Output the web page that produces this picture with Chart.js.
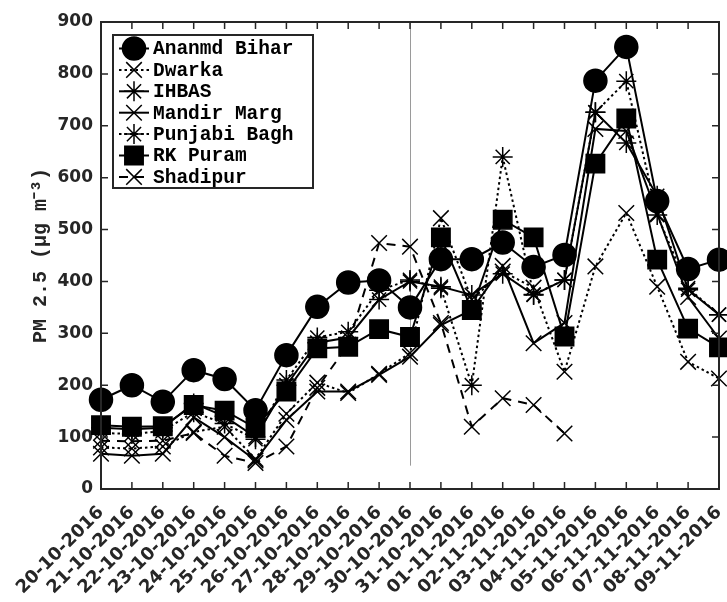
<!DOCTYPE html>
<html><head><meta charset="utf-8">
<script src="https://cdn.jsdelivr.net/npm/chart.js@4"></script>
<style>html,body{margin:0;padding:0;background:#fff}#wrap{width:727px;height:602px}</style>
</head><body><div id="wrap"><canvas id="c" width="727" height="602"></canvas></div>
<script>
const categories = ['20-10-2016','21-10-2016','22-10-2016','23-10-2016','24-10-2016','25-10-2016','26-10-2016','27-10-2016','28-10-2016','29-10-2016','30-10-2016','31-10-2016','01-11-2016','02-11-2016','03-11-2016','04-11-2016','05-11-2016','06-11-2016','07-11-2016','08-11-2016','09-11-2016'];
const yTickValues = [0,100,200,300,400,500,600,700,800,900];
const seriesNames = ['Ananmd Bihar','Dwarka','IHBAS','Mandir Marg','Punjabi Bagh','RK Puram','Shadipur'];
const anandBihar  = [172,200,168,229,212,152,258,351,398,402,350,443,443,475,428,451,787,852,555,424,442];
const dwarka      = [80,78,82,110,120,58,145,205,185,222,262,522,365,419,388,226,429,532,390,245,213];
const ihbas       = [118,115,118,165,140,100,200,282,292,365,400,390,374,415,374,403,726,667,565,384,336];
const mandirMarg  = [68,64,68,138,100,55,133,188,188,220,255,316,345,430,281,320,694,690,530,370,290];
const punjabiBagh = [108,106,112,148,126,96,210,292,303,383,403,387,200,640,375,403,726,786,528,387,336];
const rkPuram     = [123,120,121,162,151,118,188,271,274,308,293,485,345,519,485,294,627,714,442,309,273];
const shadipur    = [93,92,93,108,64,50,82,195,278,474,467,320,120,175,162,107,null,null,null,null,null];
const diwaliIndex = 10;
const diwaliLineBottom = 45;

const AX = '#262626';
const seriesValues = [anandBihar, dwarka, ihbas, mandirMarg, punjabiBagh, rkPuram, shadipur];
const seriesStyles = [
  {dash: [], point: 'circle', r: 11.5, fill: true},
  {dash: [2.5, 3], point: 'crossRot', r: 11, fill: false},
  {dash: [], point: 'star', r: 10, fill: false},
  {dash: [], point: 'crossRot', r: 11, fill: false},
  {dash: [2.5, 3], point: 'star', r: 10, fill: false},
  {dash: [], point: 'rect', r: 13, fill: true},
  {dash: [9, 7], point: 'crossRot', r: 11, fill: false}
];

const datasets = seriesNames.map((name, i) => ({
  label: name,
  data: seriesValues[i],
  borderColor: '#000',
  borderWidth: 2,
  borderDash: seriesStyles[i].dash,
  pointStyle: seriesStyles[i].point,
  pointRadius: seriesStyles[i].r,
  pointBorderWidth: 1.5,
  pointBorderColor: '#000',
  pointBackgroundColor: seriesStyles[i].fill ? '#000' : 'rgba(0,0,0,0)',
  fill: false,
  tension: 0,
  spanGaps: false,
  clip: false
}));

const framePlugin = {
  id: 'frame',
  beforeDatasetsDraw(chart) {
    const {ctx, chartArea: a, scales: {x, y}} = chart;
    const px = x.getPixelForValue(diwaliIndex);
    ctx.save();
    ctx.strokeStyle = '#9a9a9a';
    ctx.lineWidth = 1;
    ctx.beginPath();
    ctx.moveTo(Math.round(px) + 0.5, a.top);
    ctx.lineTo(Math.round(px) + 0.5, y.getPixelForValue(diwaliLineBottom));
    ctx.stroke();
    ctx.restore();
  },
  afterDatasetsDraw(chart) {
    const {ctx, chartArea: a, scales: {x, y}} = chart;
    ctx.save();
    ctx.strokeStyle = AX;
    ctx.lineWidth = 1.5;
    ctx.beginPath();
    yTickValues.forEach(v => {
      const py = y.getPixelForValue(v);
      ctx.moveTo(a.left, py); ctx.lineTo(a.left + 7, py);
      ctx.moveTo(a.right, py); ctx.lineTo(a.right - 7, py);
    });
    categories.forEach((c, i) => {
      const px = x.getPixelForValue(i);
      ctx.moveTo(px, a.bottom); ctx.lineTo(px, a.bottom - 7);
      ctx.moveTo(px, a.top); ctx.lineTo(px, a.top + 7);
    });
    ctx.stroke();
    ctx.lineWidth = 2;
    ctx.strokeRect(a.left, a.top, a.right - a.left, a.bottom - a.top);
    ctx.restore();
  },
  afterDraw(chart) {
    const {ctx, chartArea: a} = chart;
    ctx.save();
    const bx = a.left + 12, by = a.top + 13, bw = 200, bh = 153;
    ctx.fillStyle = '#fff';
    ctx.fillRect(bx, by, bw, bh);
    ctx.lineWidth = 2;
    ctx.strokeStyle = AX;
    ctx.strokeRect(bx, by, bw, bh);
    chart.data.datasets.forEach((ds, i) => {
      const cy = by + 13.5 + i * 21.4;
      ctx.strokeStyle = '#000';
      ctx.setLineDash(ds.borderDash || []);
      ctx.lineWidth = 2;
      ctx.beginPath(); ctx.moveTo(bx + 6, cy); ctx.lineTo(bx + 36, cy); ctx.stroke();
      ctx.setLineDash([]);
      ctx.lineWidth = 1.5;
      ctx.fillStyle = ds.pointBackgroundColor;
      Chart.helpers.drawPoint(ctx, {pointStyle: ds.pointStyle, radius: ds.pointRadius, rotation: 0, borderWidth: 1.5}, bx + 21, cy);
      ctx.fillStyle = '#000';
      ctx.font = 'bold 19.5px "Liberation Mono"';
      ctx.textBaseline = 'middle';
      ctx.textAlign = 'left';
      ctx.fillText(ds.label, bx + 40, cy + 1);
    });
    ctx.restore();
  }
};

const zeroPad = () => ({left: 0, top: 0, right: 0, bottom: 0});

new Chart(document.getElementById('c'), {
  type: 'line',
  data: {labels: categories, datasets},
  options: {
    responsive: false,
    devicePixelRatio: 1,
    animation: false,
    layout: {autoPadding: false, padding: {top: 22, right: 8, left: 0, bottom: 0}},
    plugins: {legend: {display: false}, tooltip: {enabled: false}},
    scales: {
      x: {
        grid: {display: false, tickLength: 0},
        border: {display: false},
        ticks: {
          autoSkip: false, minRotation: 45, maxRotation: 45, padding: 13,
          color: AX, font: {family: '"DejaVu Sans"', weight: 'bold', size: 18}
        },
        afterFit(s) { s.height = 113; s.paddingLeft = 0; s.paddingRight = 0; s.getPadding = zeroPad; }
      },
      y: {
        min: 0, max: 900,
        grid: {display: false, tickLength: 0},
        border: {display: false},
        afterBuildTicks(s) { s.ticks = yTickValues.map(v => ({value: v})); },
        ticks: {padding: 8, color: AX, font: {family: '"DejaVu Sans"', weight: 'bold', size: 17}},
        title: {
          display: true, text: 'PM 2.5 (μg m⁻³)', color: AX,
          font: {family: '"Liberation Mono"', weight: 'bold', size: 20},
          padding: {top: 29, bottom: 0}
        },
        afterFit(s) { s.width = 101; }
      }
    }
  },
  plugins: [framePlugin]
});
</script>
</body></html>
